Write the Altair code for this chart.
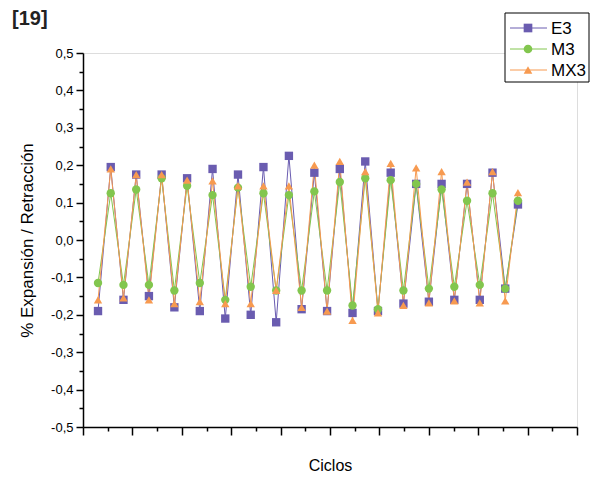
import altair as alt
import pandas as pd
import numpy as np

SERIES = ["E3", "M3", "MX3"]
COLORS = ["#6a5cb0", "#82c64e", "#f79a50"]
SHAPES = ["square", "circle", "triangle-up"]

CYCLES = list(range(1, 35))
E3 = [-0.19, 0.195, -0.16, 0.175, -0.15, 0.175, -0.18, 0.165, -0.19, 0.19,
      -0.21, 0.175, -0.20, 0.195, -0.22, 0.225, -0.185, 0.18, -0.19, 0.19,
      -0.195, 0.21, -0.19, 0.18, -0.17, 0.15, -0.165, 0.15, -0.16, 0.15,
      -0.16, 0.18, -0.13, 0.095]
M3 = [-0.115, 0.125, -0.12, 0.135, -0.12, 0.165, -0.135, 0.145, -0.115, 0.12,
      -0.16, 0.14, -0.125, 0.125, -0.135, 0.12, -0.135, 0.13, -0.135, 0.155,
      -0.175, 0.165, -0.185, 0.16, -0.135, 0.15, -0.13, 0.135, -0.125, 0.105,
      -0.12, 0.125, -0.13, 0.105]
MX3 = [-0.16, 0.19, -0.155, 0.175, -0.16, 0.175, -0.17, 0.16, -0.165, 0.158,
       -0.17, 0.145, -0.17, 0.145, -0.135, 0.145, -0.18, 0.2, -0.19, 0.21,
       -0.215, 0.183, -0.195, 0.205, -0.175, 0.193, -0.168, 0.183, -0.163, 0.155,
       -0.168, 0.183, -0.163, 0.127]

VALUES = {"E3": E3, "M3": M3, "MX3": MX3}
rows = []
for s in SERIES:
    for c, v in zip(CYCLES, VALUES[s]):
        rows.append({"ciclo": c, "valor": v, "serie": s})
df = pd.DataFrame(rows)

FONT = "Liberation Sans"
XDOM = [-0.18, 38.64]
xt = np.linspace(XDOM[0], XDOM[1], 21)
XMAJ = [float(v) for v in xt[0::2]]
XMIN = [float(v) for v in xt[1::2]]
YMAJ = [round(v, 2) for v in np.arange(-0.5, 0.51, 0.1)]
YMIN = [round(v, 2) for v in np.arange(-0.45, 0.46, 0.1)]

xscale = alt.Scale(domain=XDOM, nice=False, zero=False)
yscale = alt.Scale(domain=[-0.5, 0.5], nice=False)
cscale = alt.Scale(domain=SERIES, range=COLORS)
sscale = alt.Scale(domain=SERIES, range=SHAPES)

lbl = "replace(replace(format(datum.value, '.1f'), '.', ','), '\u2212', '-')"

x_major = alt.Axis(values=XMAJ, tickSize=8, labels=False, grid=False, title="Ciclos",
                   titleFont=FONT, titleFontSize=16, titleFontWeight="normal",
                   titleColor="black", titlePadding=22, domainColor="black",
                   domainWidth=1.5, tickColor="black", tickWidth=1.5)
x_minor = alt.Axis(values=XMIN, tickSize=4, labels=False, grid=False, title=None,
                   domain=False, tickColor="black", tickWidth=1.5, orient="bottom")
y_major = alt.Axis(values=YMAJ, tickSize=7, labelExpr=lbl, grid=False,
                   title="% Expansión / Retracción", titleFont=FONT, titleFontSize=17,
                   titleFontWeight="normal", titleColor="black", titlePadding=14,
                   labelFont=FONT, labelFontSize=13, labelColor="black", labelPadding=3,
                   domainColor="black", domainWidth=1.5, tickColor="black", tickWidth=1.5)
y_minor = alt.Axis(values=YMIN, tickSize=4, labels=False, grid=False, title=None,
                   domain=False, tickColor="black", tickWidth=1.5, orient="left")

lines = alt.Chart(df).mark_line(strokeWidth=1).encode(
    x=alt.X("ciclo:Q", scale=xscale, axis=x_major),
    y=alt.Y("valor:Q", scale=yscale, axis=y_major),
    color=alt.Color("serie:N", scale=cscale, legend=None),
)
points = alt.Chart(df).mark_point(filled=True, opacity=1, size=70).encode(
    x=alt.X("ciclo:Q", scale=xscale, axis=x_minor),
    y=alt.Y("valor:Q", scale=yscale, axis=y_minor),
    color=alt.Color("serie:N", scale=cscale, legend=None),
    shape=alt.Shape("serie:N", scale=sscale, legend=None),
)

one = pd.DataFrame({"k": [0]})
layers = [lines, points]

box = alt.Chart(one).mark_rect(fill="white", stroke="black", strokeWidth=1).encode(
    x=alt.value(422), x2=alt.value(506), y=alt.value(-40), y2=alt.value(29))
layers.append(box)
for i, (s, col, shp) in enumerate(zip(SERIES, COLORS, SHAPES)):
    yy = -25 + 21 * i
    layers.append(alt.Chart(one).mark_rule(strokeWidth=1, color=col).encode(
        x=alt.value(427), x2=alt.value(464), y=alt.value(yy)))
    layers.append(alt.Chart(one).mark_point(filled=True, opacity=1, size=75, color=col, shape=shp).encode(
        x=alt.value(445), y=alt.value(yy)))
    layers.append(alt.Chart(one).mark_text(align="left", baseline="middle", font=FONT,
                                           fontSize=17, color="black").encode(
        x=alt.value(468), y=alt.value(yy + 1), text=alt.value(s)))

tag = alt.Chart(one).mark_text(align="left", baseline="middle", font=FONT, fontSize=20,
                               fontWeight="bold", color="#222").encode(
    x=alt.value(-71), y=alt.value(-34), text=alt.value("[19]"))
layers.append(tag)

chart = alt.layer(*layers).resolve_axis(x="independent", y="independent").properties(
    width=494, height=374,
    autosize=alt.AutoSizeParams(type="none"),
    padding={"left": 75, "top": 45, "right": 13, "bottom": 50},
).configure_view(stroke=None).configure(background="white")

chart.save("out.html", embed_options={"renderer": "svg", "actions": False})
